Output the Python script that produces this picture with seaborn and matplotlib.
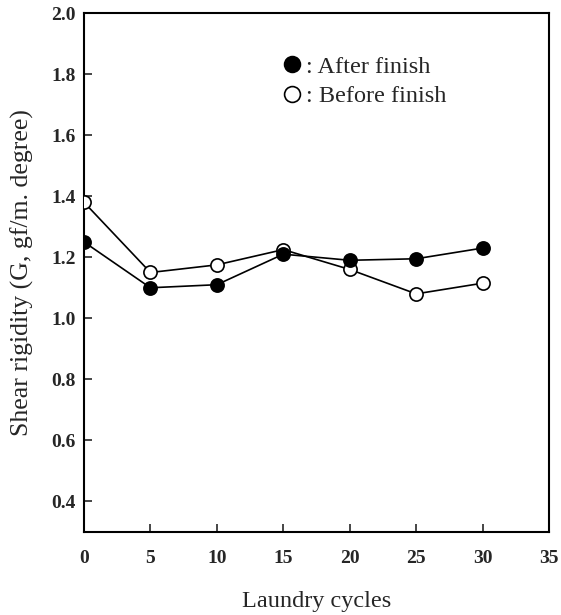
import matplotlib
matplotlib.use("Agg")
import matplotlib.pyplot as plt
import seaborn as sns
import pandas as pd

cycles = [0, 5, 10, 15, 20, 25, 30]
after_finish = [1.25, 1.10, 1.11, 1.21, 1.19, 1.195, 1.23]
before_finish = [1.38, 1.15, 1.175, 1.225, 1.16, 1.08, 1.115]
x_ticks = [0, 5, 10, 15, 20, 25, 30, 35]
y_ticks = [0.4, 0.6, 0.8, 1.0, 1.2, 1.4, 1.6, 1.8, 2.0]

sns.set_style("white")
plt.rcParams['font.family'] = ['Liberation Serif', 'DejaVu Serif']

fig = plt.figure(figsize=(5.61, 6.15), dpi=100)
ax = fig.add_axes([84/561, 1-532/615, (549-84)/561, (532-13)/615])

df_b = pd.DataFrame({"x": cycles, "y": before_finish})
df_a = pd.DataFrame({"x": cycles, "y": after_finish})

sns.lineplot(data=df_b, x="x", y="y", ax=ax, color="black", lw=1.2,
             marker="o", markersize=9.5, markerfacecolor="white",
             markeredgecolor="black", markeredgewidth=1.2,
             label=": Before finish", zorder=3)
sns.lineplot(data=df_a, x="x", y="y", ax=ax, color="black", lw=1.2,
             marker="o", markersize=9.5, markerfacecolor="black",
             markeredgecolor="black", markeredgewidth=1.2,
             label=": After finish", zorder=4)

ax.set_xlim(0, 35)
ax.set_ylim(0.3, 2.0)
ax.set_xticks(x_ticks)
ax.set_xticklabels([str(v) for v in x_ticks])
ax.set_yticks(y_ticks)
ax.set_yticklabels([f"{v:.1f}" for v in y_ticks])
ax.tick_params(direction="in", length=6, width=1.2, labelsize=14,
               bottom=True, left=True, top=False, right=False)
ax.tick_params(axis="x", pad=13)
ax.tick_params(axis="y", pad=6)
for lab in ax.get_xticklabels() + ax.get_yticklabels():
    lab.set_fontweight("bold")
for s in ax.spines.values():
    s.set_linewidth(1.5)
    s.set_color("black")

ax.set_xlabel("Laundry cycles", fontsize=17.5, labelpad=17)
ax.set_ylabel("Shear rigidity (G, gf/m. degree)", fontsize=18.5, labelpad=12)

handles, labels = ax.get_legend_handles_labels()
order = [labels.index(": After finish"), labels.index(": Before finish")]
ax.legend([handles[i] for i in order], [labels[i] for i in order],
          loc="upper left", bbox_to_anchor=(0.40, 0.96), frameon=False,
          handlelength=0, handletextpad=0.6, fontsize=17.5, labelspacing=0.32,
          markerscale=1.2)

fig.savefig("out.png", dpi=100)
